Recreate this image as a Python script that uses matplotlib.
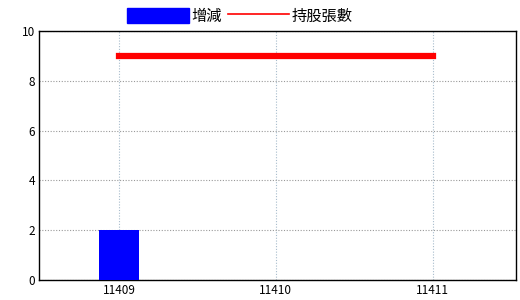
import matplotlib
matplotlib.use('Agg')
import matplotlib.pyplot as plt
import numpy as np

plt.rcParams['font.family'] = ['Noto Sans CJK TC', 'DejaVu Sans']

# data
categories = ['11409', '11410', '11411']
change_vals = [2, 0, 0]      # 增減
holding_vals = [9, 9, 9]     # 持股張數

fig = plt.figure(figsize=(5.2, 3.0), dpi=100)
ax = fig.add_axes([39/520, 20/300, 477/520, 249/300])

x = np.arange(len(categories))
ax.bar(x, change_vals, width=0.255, color='#0000ff', zorder=3, label='增減')
line, = ax.plot(x, holding_vals, color='#ff0000', linewidth=4.5, zorder=4, label='持股張數')

ax.set_xlim(-0.51, 2.53)
ax.set_ylim(0, 10)
ax.set_xticks(x)
ax.set_xticklabels(categories)
ax.set_yticks([0, 2, 4, 6, 8, 10])
ax.tick_params(axis='both', length=0, labelsize=8.5, pad=3)

ax.grid(axis='y', color='#999999', linestyle=(0, (1, 1.5)), linewidth=0.8, zorder=0)
ax.grid(axis='x', color='#a8bccc', linestyle=(0, (1, 1.5)), linewidth=0.8, zorder=0)
for s in ax.spines.values():
    s.set_linewidth(1)
    s.set_color('black')

# legend above the plot, line drawn thin like the original
handles = [plt.Rectangle((0, 0), 1, 1, color='#0000ff'),
           plt.Line2D([0], [0], color='#ff0000', linewidth=1.2)]
fig.legend(handles, ['增減', '持股張數'], loc='center', bbox_to_anchor=(240/520, 1 - 16/300),
           ncol=2, frameon=False, fontsize=11, handlelength=4.0, handleheight=1.2,
           handletextpad=0.15, columnspacing=0.45, borderpad=0)

fig.savefig('out.png', dpi=100)
